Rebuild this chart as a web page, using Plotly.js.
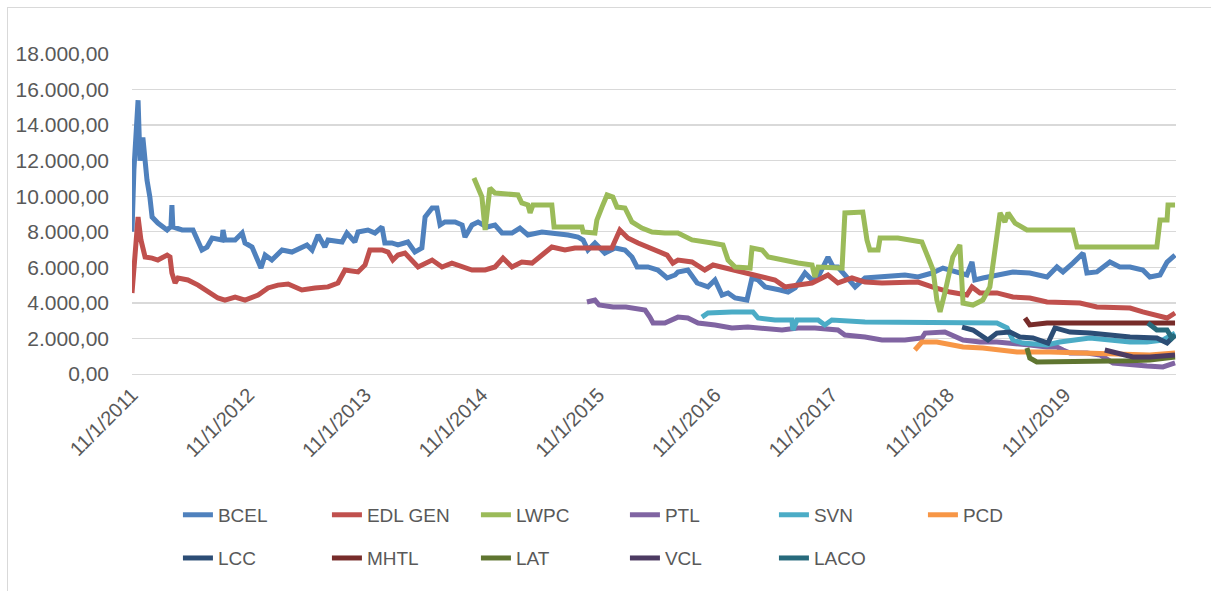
<!DOCTYPE html>
<html>
<head>
<meta charset="utf-8">
<script src="https://cdn.plot.ly/plotly-3.0.1.min.js"></script>
<style>
  body { margin: 0; background: #fff; }
  #chart { position: absolute; left: 0; top: 0; width: 1211px; height: 591px; }
  #frame { position: absolute; left: 7px; top: 7px; width: 1220px; height: 600px;
           border: 1px solid #d9d9d9; pointer-events: none; }
</style>
</head>
<body>
<div id="chart"></div>
<div id="frame"></div>
<script>
// Precios de cierre (LAK), fechas aproximadas
const bcelDates = ['2011-01-11','2011-01-17','2011-01-30','2011-02-05','2011-02-14','2011-02-21','2011-02-27','2011-03-08','2011-03-15','2011-04-02','2011-05-01','2011-05-13','2011-05-16','2011-05-19','2011-06-17','2011-07-21','2011-08-18','2011-09-03','2011-09-19','2011-10-20','2011-10-23','2011-10-29','2011-11-30','2011-12-22','2011-12-31',
  '2012-01-22','2012-02-10','2012-02-19','2012-03-03','2012-03-24','2012-04-25','2012-05-26','2012-07-12','2012-07-28','2012-08-16','2012-09-06','2012-09-16','2012-10-30','2012-11-14','2012-12-09','2012-12-19',
  '2013-01-19','2013-02-10','2013-03-04','2013-03-13','2013-04-04','2013-04-23','2013-05-15','2013-05-24','2013-06-15','2013-07-07','2013-07-17','2013-08-08','2013-08-23','2013-09-02','2013-09-17','2013-10-19','2013-11-10','2013-11-19','2013-12-11','2013-12-30',
  '2014-01-27','2014-02-21','2014-03-15','2014-04-15','2014-05-10','2014-06-04','2014-07-18','2014-08-28','2014-10-08','2014-11-08','2014-11-24','2014-12-09','2014-12-31',
  '2015-01-31','2015-03-04','2015-04-04','2015-04-26','2015-05-12','2015-06-15','2015-07-16','2015-08-14','2015-09-08','2015-09-17','2015-10-18','2015-11-16','2015-12-20',
  '2016-01-11','2016-02-02','2016-02-21','2016-03-14','2016-04-20','2016-05-06','2016-05-25','2016-06-16','2016-07-07','2016-08-02','2016-08-27','2016-09-18','2016-10-19','2016-11-10','2016-11-29','2016-12-30',
  '2017-01-15','2017-01-30','2017-02-21','2017-03-25','2017-04-25','2017-06-05','2017-07-18','2017-08-28','2017-10-08','2017-11-21','2017-12-25',
  '2018-02-16','2018-03-10','2018-03-26','2018-04-04','2018-04-29','2018-06-12','2018-08-01','2018-09-23','2018-11-16','2018-12-17',
  '2019-01-05','2019-02-05','2019-03-09','2019-03-21','2019-04-21','2019-06-01','2019-07-02','2019-08-03','2019-09-12','2019-10-04','2019-11-05','2019-11-27','2019-12-22'];
const bcelVals = [8000,11500,15400,12000,13300,12000,10900,9950,8830,8490,8100,8300,9500,8270,8100,8100,6975,7140,7650,7540,8100,7540,7540,7930,7370,
  7140,6410,5960,6690,6410,6975,6860,7260,6975,7820,7140,7540,7425,7930,7425,7990,
  8100,7930,8270,7370,7370,7260,7370,7425,6860,7090,8830,9340,9340,8380,8550,8550,8380,7700,8380,8550,
  8270,8380,7930,7930,8210,7820,7990,7930,7820,7700,7540,6975,7370,
  6800,7090,6975,6580,6020,6020,5850,5400,5570,5740,5850,5120,4900,
  5290,4440,4560,4275,4160,5400,5290,4900,4840,4725,4610,4840,5680,5290,5460,6580,
  6020,6020,5570,4900,5400,5460,5460,5570,5460,5680,5960,
  5680,5570,6300,5290,5400,5570,5740,5680,5460,6020,
  5740,6240,6800,5680,5740,6300,6020,6020,5850,5460,5570,6300,6690];

const edlDates = ['2011-01-11','2011-01-20','2011-01-30','2011-02-08','2011-02-14','2011-02-21','2011-03-15','2011-04-02','2011-05-01','2011-05-10','2011-05-16','2011-05-26','2011-06-04','2011-07-05','2011-08-06','2011-09-06','2011-10-07','2011-10-29','2011-11-30','2011-12-31',
  '2012-02-10','2012-03-12','2012-04-12','2012-05-14','2012-06-26','2012-08-06','2012-09-16','2012-10-17','2012-11-08','2012-12-19',
  '2013-01-10','2013-01-25','2013-03-04','2013-03-23','2013-04-07','2013-04-23','2013-05-15','2013-06-25','2013-08-08','2013-09-08','2013-10-09','2013-12-11',
  '2014-01-21','2014-02-21','2014-03-18','2014-04-15','2014-05-16','2014-06-17','2014-07-18','2014-08-18','2014-09-28','2014-10-29','2014-12-09',
  '2015-01-22','2015-02-22','2015-03-19','2015-04-13','2015-05-15','2015-06-15','2015-07-16','2015-08-14','2015-09-01','2015-09-17','2015-10-31','2015-12-10',
  '2016-01-05','2016-02-11','2016-04-05','2016-05-15','2016-07-17','2016-08-17','2016-09-27','2016-11-10','2016-12-30',
  '2017-01-30','2017-03-15','2017-04-25','2017-06-17','2017-08-06','2017-10-08','2017-11-21',
  '2018-01-16','2018-03-10','2018-03-26','2018-04-20','2018-06-12','2018-08-01','2018-09-23','2018-11-16',
  '2019-01-05','2019-02-27','2019-04-21','2019-06-11','2019-08-03','2019-09-12','2019-10-26','2019-11-27','2019-12-22'];
const edlVals = [4560,6800,8830,7540,7140,6580,6520,6410,6690,6580,5680,5120,5400,5290,5000,4610,4275,4160,4330,4160,
  4440,4840,5000,5060,4725,4840,4900,5120,5850,5740,
  6130,6975,6975,6860,6410,6690,6800,6020,6410,6020,6240,5850,
  5850,6020,6520,6020,6300,6240,6690,7140,6975,7090,7090,
  7090,7090,8100,7650,7370,7140,6860,6690,6240,6410,6300,5850,
  6130,5960,5740,5570,5290,4900,5000,5120,5570,
  5120,5400,5170,5120,5120,5170,4900,
  4610,4440,4900,4560,4560,4330,4275,4050,
  3990,3990,3770,3770,3710,3490,3320,3150,3430];

const lwpcDates = ['2013-12-17','2014-01-11','2014-01-21','2014-02-05','2014-02-21','2014-05-04','2014-05-16','2014-06-04','2014-06-11','2014-06-20','2014-08-18','2014-08-25','2014-11-20','2014-11-24','2014-12-31',
  '2015-01-06','2015-01-22','2015-02-07','2015-02-25','2015-03-10','2015-04-04','2015-04-26','2015-05-27','2015-06-28','2015-08-07','2015-09-17','2015-10-31','2015-12-01',
  '2016-01-02','2016-02-05','2016-02-21','2016-03-14','2016-04-30','2016-05-06','2016-06-07','2016-06-26','2016-08-08','2016-09-27','2016-11-10','2016-11-19','2016-11-29',
  '2017-02-12','2017-02-21','2017-04-18','2017-05-01','2017-05-10','2017-06-05','2017-06-11','2017-08-06','2017-10-20','2017-11-08','2017-11-24','2017-12-06','2017-12-16','2017-12-31',
  '2018-01-25','2018-02-16','2018-02-26','2018-03-29','2018-04-29','2018-05-21','2018-06-12','2018-06-22','2018-07-07','2018-07-17','2018-08-08','2018-09-14',
  '2019-02-05','2019-02-18','2019-10-26','2019-11-05','2019-11-27','2019-11-30','2019-12-22'];
const lwpcVals = [11025,9960,8100,10460,10180,10070,9620,9510,9060,9510,9510,8270,8270,7990,7930,
  8660,9390,10070,9960,9390,9340,8550,8210,7990,7930,7930,7540,7425,
  7370,7260,6410,6020,5960,7090,6975,6580,6410,6240,6130,5460,6020,
  5960,9060,9110,7540,6975,6975,7650,7650,7425,6580,5850,4160,3490,4560,
  6580,7260,3990,3880,4160,4900,7930,9060,8550,9060,8490,8100,
  8100,7140,7140,8660,8660,9510,9510];

const ptlDates = ['2014-12-06','2014-12-31','2015-01-13','2015-02-26','2015-04-07','2015-06-06','2015-06-21','2015-07-01','2015-08-07','2015-09-17','2015-10-18','2015-11-19',
  '2016-01-11','2016-03-04','2016-04-23','2016-06-16','2016-08-08','2016-09-27','2016-11-19',
  '2017-01-30','2017-02-21','2017-04-25','2017-06-17','2017-08-28','2017-10-20','2017-10-30','2017-12-31',
  '2018-02-26','2018-04-20','2018-06-12','2018-08-01','2018-09-23','2018-11-16','2018-12-17',
  '2019-01-05','2019-01-27','2019-03-21','2019-05-01','2019-06-11','2019-08-03','2019-09-25','2019-11-14','2019-12-12','2019-12-22'];
const ptlVals = [4050,4160,3880,3770,3770,3600,3200,2870,2870,3200,3150,2870,
  2760,2590,2640,2590,2475,2590,2590,
  2475,2190,2080,1910,1910,2025,2300,2360,
  1910,1800,1800,1740,1630,1520,1520,
  1350,1180,1180,1070,620,510,450,400,550,620];

const svnDates = ['2015-12-01','2015-12-20','2016-03-04','2016-05-09','2016-05-25','2016-07-17','2016-09-08','2016-09-11','2016-09-24','2016-11-29','2016-12-20',
  '2017-01-11','2017-04-25','2017-08-06','2017-12-31','2018-02-26','2018-06-12','2018-07-14','2018-08-01','2018-09-01','2018-11-16','2018-12-26',
  '2019-02-05','2019-03-30','2019-06-01','2019-08-03','2019-09-25','2019-11-14','2019-12-22'];
const svnVals = [3200,3430,3490,3490,3150,3040,3040,2475,3040,3040,2760,
  3040,2925,2925,2925,2870,2870,2590,1910,1740,1630,1800,
  1910,2025,1910,1800,1800,1910,2300];

const pcdDates = ['2017-09-28','2017-10-20','2017-12-06','2018-01-16','2018-02-26','2018-04-29','2018-06-22','2018-08-14','2018-11-25','2019-03-09','2019-06-23','2019-10-04','2019-12-22'];
const pcdVals = [1350,1800,1800,1630,1520,1460,1350,1240,1240,1180,1070,1070,1180];

const lccDates = ['2018-02-23','2018-03-29','2018-05-15','2018-06-12','2018-07-23','2018-08-23','2018-10-03','2018-11-19','2018-12-11','2019-01-27','2019-03-30','2019-06-01','2019-08-03','2019-10-26','2019-11-27','2019-12-22'];
const lccVals = [2640,2475,1910,2300,2360,2080,2025,1740,2590,2360,2300,2190,2080,2025,1740,2190];

const mhtlDates = ['2018-09-08','2018-09-23','2018-11-16','2019-01-05','2019-04-21','2019-08-03','2019-12-22'];
const mhtlVals = [3150,2760,2870,2870,2925,2925,2870];

const latDates = ['2018-09-14','2018-09-23','2018-10-15','2019-01-05','2019-04-21','2019-08-03','2019-10-04','2019-12-22'];
const latVals = [1460,900,680,680,680,750,790,960];

const vclDates = ['2019-05-16','2019-06-23','2019-08-12','2019-10-04','2019-12-22'];
const vclVals = [1350,1180,960,960,1070];

const lacoDates = ['2019-09-28','2019-10-26','2019-11-27','2019-12-12','2019-12-22'];
const lacoVals = [2870,2475,2475,2025,2190];

const tickDates = ['2011-01-11','2012-01-11','2013-01-11','2014-01-11','2015-01-11','2016-01-11','2017-01-11','2018-01-11','2019-01-11'];
const tickLabels = ['11/1/2011','11/1/2012','11/1/2013','11/1/2014','11/1/2015','11/1/2016','11/1/2017','11/1/2018','11/1/2019'];

// series: nombre, fechas, valores, color, leyenda (fila)
const series = [
  ['BCEL', bcelDates, bcelVals, '#4F81BD', 'legend'],
  ['EDL GEN', edlDates, edlVals, '#C0504D', 'legend'],
  ['LWPC', lwpcDates, lwpcVals, '#9BBB59', 'legend'],
  ['PTL', ptlDates, ptlVals, '#8064A2', 'legend'],
  ['SVN', svnDates, svnVals, '#4BACC6', 'legend'],
  ['PCD', pcdDates, pcdVals, '#F79646', 'legend'],
  ['LCC', lccDates, lccVals, '#2C4D75', 'legend2'],
  ['MHTL', mhtlDates, mhtlVals, '#772C2A', 'legend2'],
  ['LAT', latDates, latVals, '#5F7530', 'legend2'],
  ['VCL', vclDates, vclVals, '#4D3B62', 'legend2'],
  ['LACO', lacoDates, lacoVals, '#276A7C', 'legend2']
];

const data = series.map(s => ({
  x: s[1],
  y: s[2],
  name: s[0],
  legend: s[4],
  mode: 'lines',
  line: { color: s[3], width: 5 },
  hoverinfo: 'skip'
}));

const legendFont = { family: 'Liberation Sans', size: 19, color: '#595959' };

const layout = {
  width: 1211,
  height: 591,
  margin: { l: 132, r: 35, t: 54, b: 217 },
  paper_bgcolor: '#ffffff',
  plot_bgcolor: '#ffffff',
  separators: ',.',
  font: { family: 'Liberation Sans', color: '#595959' },
  showlegend: true,
  xaxis: {
    type: 'date',
    range: ['2011-01-11', '2019-12-25'],
    tickvals: tickDates,
    ticktext: tickLabels,
    tickangle: -45,
    tickfont: { size: 20, color: '#595959' },
    showgrid: false,
    zeroline: false,
    showline: true,
    linecolor: '#d9d9d9',
    linewidth: 1.3,
    ticks: ''
  },
  yaxis: {
    range: [0, 18000],
    tickvals: [0, 2000, 4000, 6000, 8000, 10000, 12000, 14000, 16000, 18000],
    tickformat: ',.2f',
    tickfont: { size: 21, color: '#595959' },
    gridcolor: '#d9d9d9',
    gridwidth: 1.3,
    zeroline: false,
    showline: false,
    ticks: '',
    ticklabelstandoff: 22
  },
  legend: {
    orientation: 'h',
    x: 0.044, xanchor: 'left',
    y: -0.381, yanchor: 'top',
    entrywidth: 104,
    entrywidthmode: 'pixels',
    font: legendFont,
    bgcolor: 'rgba(0,0,0,0)'
  },
  legend2: {
    orientation: 'h',
    x: 0.044, xanchor: 'left',
    y: -0.516, yanchor: 'top',
    entrywidth: 104,
    entrywidthmode: 'pixels',
    font: legendFont,
    bgcolor: 'rgba(0,0,0,0)'
  }
};

Plotly.newPlot('chart', data, layout, { displayModeBar: false, staticPlot: true });
</script>
</body>
</html>
